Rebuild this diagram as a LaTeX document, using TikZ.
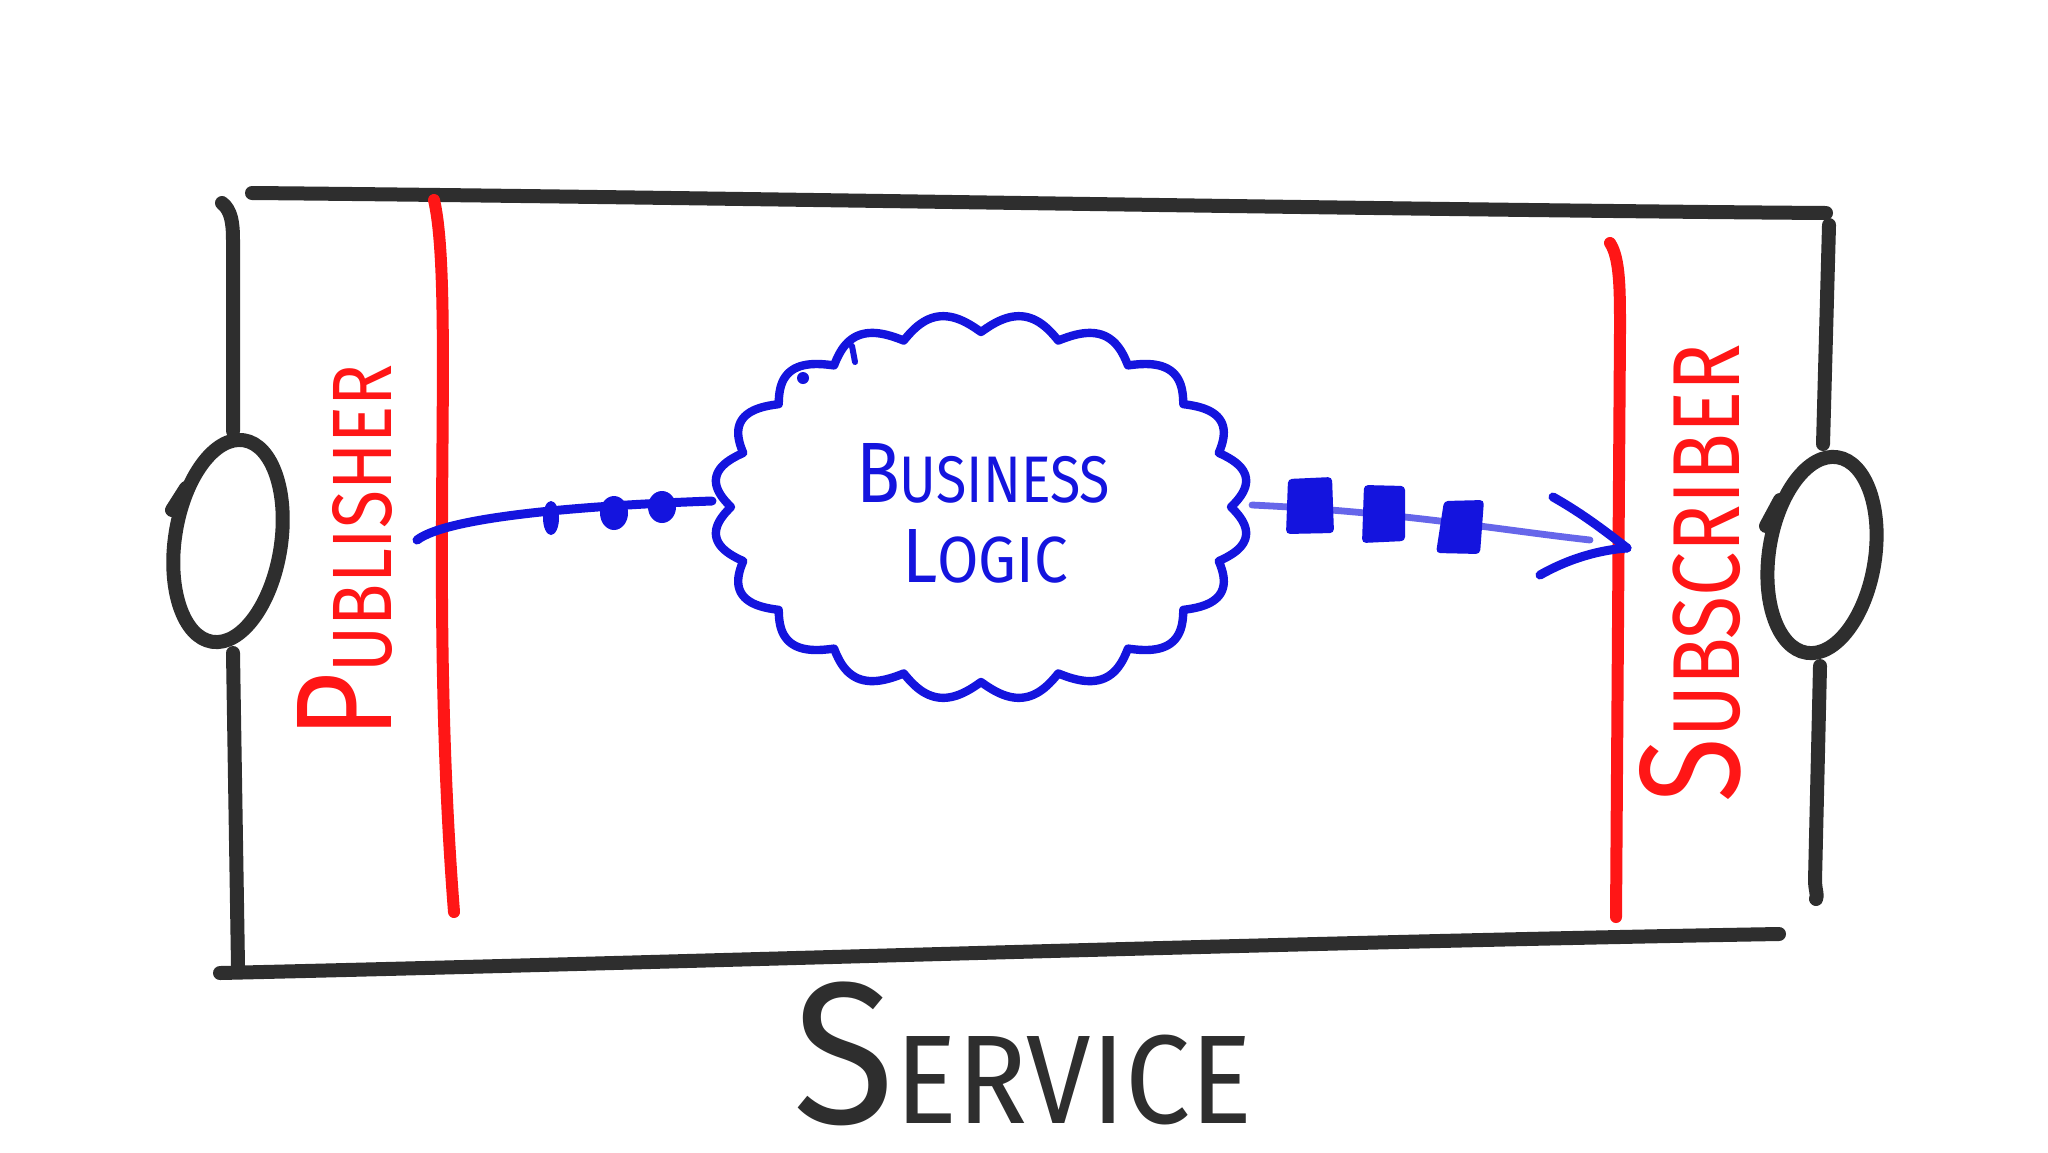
\documentclass[tikz,border=0pt]{standalone}
\usepackage{fontspec}
\setmainfont{Fira Sans}
\usepackage{graphicx}
\definecolor{ink}{HTML}{2E2E2E}
\definecolor{pen}{HTML}{FF1616}
\definecolor{bpen}{HTML}{1414DE}
\begin{document}
\begin{tikzpicture}[x=0.5pt,y=-0.5pt,line cap=round,line join=round,
  blackline/.style={draw=ink,line width=7pt},
  redline/.style={draw=pen,line width=6pt},
  blueline/.style={draw=bpen,line width=4.2pt},
  lbl/.style={inner sep=0pt,outer sep=0pt}]
\useasboundingbox[fill=white] (0,0) rectangle (2048,1152);

% service box
\draw[blackline] (252,193) .. controls (700,197) and (1400,210) .. (1826,213);
\draw[blackline] (222,203) .. controls (231,210) and (233,222) .. (233,240) -- (233,431);
\draw[blackline] (233,653) -- (238,966);
\draw[blackline] (220,973) .. controls (700,962) and (1300,942) .. (1779,934);
\draw[blackline] (1829,225) -- (1823,444);
\draw[blackline] (1820,666) -- (1815,880) .. controls (1815,890) and (1818,895) .. (1816,899);

% ports
\draw[blackline,rotate around={-9:(228,541)}] (228,541) ellipse [x radius=53,y radius=102];
\draw[blackline] (172,510) -- (186,488);
\draw[blackline,rotate around={-9:(1822,555)}] (1822,555) ellipse [x radius=53,y radius=99];
\draw[blackline] (1766,526) -- (1780,500);

% red lines
\draw[redline] (434,200) .. controls (448,260) and (441,420) .. (442,600) .. controls (443,760) and (450,860) .. (454,912);
\draw[redline] (1610,243) .. controls (1620,258) and (1620,290) .. (1620,330) -- (1616,917);

% labels
\node[lbl,text=pen,rotate=90] (pub) at (345,551)
  {\resizebox{187pt}{47pt}{{\fontsize{16.2}{16}\selectfont P}{\fontsize{10}{10}\selectfont UBLISHER}}};
\node[lbl,text=pen,rotate=90] (sub) at (1690,573)
  {\resizebox{229pt}{50pt}{{\fontsize{15}{15}\selectfont S}{\fontsize{10}{10}\selectfont UBSCRIBER}}};

% cloud
\draw[blueline] plot[domain=0:360,samples=541,variable=\t]
  ({981+(268-18+18*abs(sin(10*\t)))*cos(\t)},{507+(193-18+18*abs(sin(10*\t)))*sin(\t)}) -- cycle;
\fill[bpen] (803,378) circle (6);
\draw[blueline,line width=3pt] (852,346) -- (855,362);
\node[lbl,text=bpen] (bus) at (983,473)
  {\resizebox{127pt}{29.5pt}{{\fontsize{13}{13}\selectfont B}{\fontsize{10}{10}\selectfont USINESS}}};
\node[lbl,text=bpen] (logic) at (985,556)
  {\resizebox{83pt}{26.5pt}{{\fontsize{11.8}{12}\selectfont L}{\fontsize{10}{10}\selectfont OGIC}}};

\coordinate (cloudW) at (712,501);
\coordinate (cloudE) at (1252,505);
\coordinate (pubEnd) at (417,540);
\coordinate (tip) at (1627,548);

% input connector with events
\draw[blueline,line width=4.5pt] (pubEnd) .. controls (450,515) and (600,505) .. (cloudW);
\fill[bpen] (551,518) ellipse [x radius=8,y radius=17];
\fill[bpen] (614,513) ellipse [x radius=14,y radius=17];
\fill[bpen] (662,507) ellipse [x radius=14,y radius=16];

% output connector with messages
\draw[draw=bpen!65,line width=3.4pt] (cloudE) .. controls (1400,512) and (1500,530) .. (1590,540);
\fill[bpen,rounded corners=2pt] (1288,479) -- (1332,477) -- (1334,533) -- (1286,534) -- cycle;
\fill[bpen,rounded corners=2pt] (1364,485) -- (1405,486) -- (1405,541) -- (1362,543) -- cycle;
\fill[bpen,rounded corners=2pt] (1444,501) -- (1484,500) -- (1480,554) -- (1436,553) -- cycle;
\draw[blueline,line width=4.5pt] (1553,497) .. controls (1585,515) and (1610,535) .. (tip);
\draw[blueline,line width=4.5pt] (1540,575) .. controls (1570,558) and (1600,550) .. (tip);

% title
\node[lbl,text=ink] (service) at (1023,1054)
  {\resizebox*{229pt}{72pt}{{\fontsize{16}{16}\selectfont S}{\fontsize{10}{10}\selectfont ERVICE}}};
\end{tikzpicture}
\end{document}
